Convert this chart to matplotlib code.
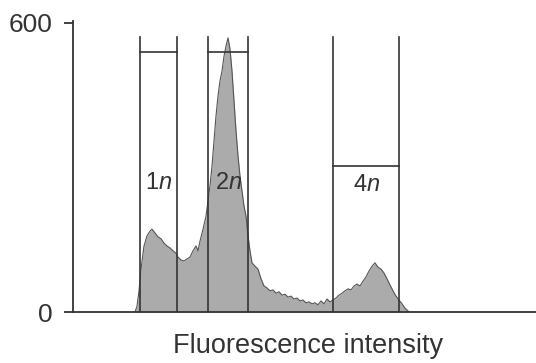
import numpy as np
import matplotlib
matplotlib.use("Agg")
import matplotlib.pyplot as plt

plt.rcParams['font.family'] = ['Liberation Sans', 'DejaVu Sans']
plt.rcParams['mathtext.fontset'] = 'custom'
plt.rcParams['mathtext.rm'] = 'Liberation Sans'
plt.rcParams['mathtext.it'] = 'Liberation Sans:italic'

# histogram (channel, cell count)
channel = [62, 64, 66, 68, 71, 74, 77, 79, 82, 85, 88, 91, 94, 97, 100, 103,
           105, 108, 111, 114, 117, 120, 123, 125, 127, 130, 133, 135, 137,
           139, 141, 143, 145, 147, 149, 151, 153, 155, 157, 159, 161, 163,
           165, 167, 169, 171, 173, 175, 177, 179, 182, 185, 188, 191, 194,
           197, 200, 203, 206, 209, 212, 215, 218, 221, 224, 227, 230, 233,
           236, 239, 242, 245, 248, 251, 254, 257, 260, 263, 266, 269, 272,
           275, 278, 281, 284, 287, 290, 293, 296, 299, 302, 305, 308, 311,
           314, 317, 320, 323, 326, 329, 332, 335, 337]
counts = [0, 12, 44, 89, 137, 158, 168, 172, 164, 156, 152, 143, 137, 133,
          127, 122, 114, 108, 106, 110, 114, 127, 137, 127, 147, 172, 199,
          230, 262, 303, 355, 407, 448, 480, 500, 531, 552, 569, 546, 500,
          438, 376, 324, 282, 251, 220, 199, 158, 127, 102, 95, 89, 69, 54,
          50, 44, 46, 39, 42, 35, 37, 31, 33, 27, 29, 23, 25, 19, 21, 17, 19,
          15, 23, 17, 27, 21, 25, 29, 35, 39, 44, 48, 46, 54, 58, 54, 64, 73,
          85, 95, 102, 93, 89, 81, 69, 56, 44, 33, 25, 17, 8, 2, 0]

# gates: label, left, right, bar level
gate_labels = ['1$n$', '2$n$', '4$n$']
gate_left = [66.5, 135, 259.5]
gate_right = [103.5, 174.5, 325.5]
gate_bar = [540, 540, 303]
gate_top = 571
label_y = [268, 268, 264]

fig = plt.figure(figsize=(5.36, 3.63), dpi=100)
ax = fig.add_axes([73/536, 51/363, 463/536, 291/363])

ax.fill_between(channel, counts, color='#ababab', lw=0)
ax.plot(channel, counts, color='#555555', lw=0.8)

line_kw = dict(color='#333333', lw=1.2)
for lab, l, r, b, ly in zip(gate_labels, gate_left, gate_right, gate_bar, label_y):
    ax.plot([l, l], [0, gate_top], **line_kw)
    ax.plot([r, r], [0, gate_top], **line_kw)
    ax.plot([l, r], [b, b], **line_kw)
    ax.text((l + r) / 2 + 1, ly, lab, ha='center', va='center',
            fontsize=17, color='#333333')

ax.set_xlim(0, 463)
ax.set_ylim(0, 604)
ax.set_yticks([0, 600])
ax.set_xticks([])
for s in ['top', 'right']:
    ax.spines[s].set_visible(False)
for s in ['left', 'bottom']:
    ax.spines[s].set_color('#333333')
    ax.spines[s].set_linewidth(1.3)
ax.tick_params(axis='y', length=6.5, width=1.3, color='#333333', pad=8,
               labelsize=19, labelcolor='#333333')

fig.text(308/536, 1 - 346/363, 'Fluorescence intensity', ha='center',
         va='center', fontsize=19.5, color='#333333')

fig.savefig('out.png', dpi=100)
